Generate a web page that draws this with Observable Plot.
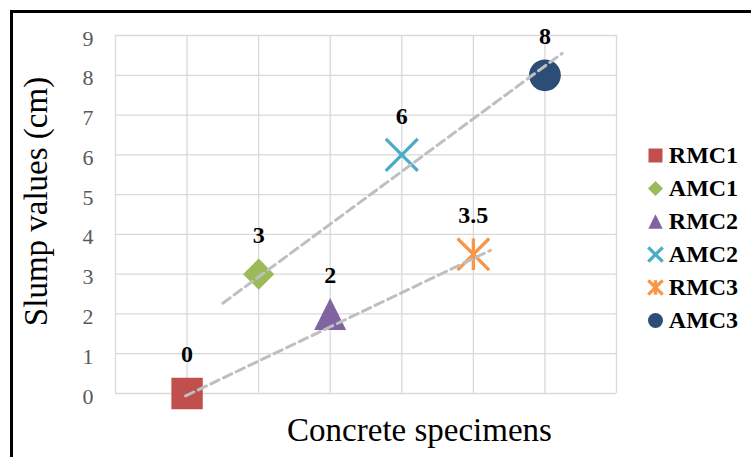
<!DOCTYPE html>
<html>
<head>
<meta charset="utf-8">
<script src="https://cdn.jsdelivr.net/npm/d3@7"></script>
<script src="https://cdn.jsdelivr.net/npm/@observablehq/plot@0.6"></script>
<style>
  html, body { margin: 0; padding: 0; background: #fff; }
  #chart { position: relative; width: 751px; height: 457px; overflow: hidden; background: #fff; }
  #chart > svg { position: absolute; left: 0; top: 0; }
  #chart svg text { font-family: "Liberation Serif", "Times New Roman", serif; }
  #frame { position: absolute; left: 10px; top: 10px; width: 800px; height: 500px;
           border-left: 3px solid #000; border-top: 3px solid #000; pointer-events: none; }
  #legend { position: absolute; left: 640px; top: 116.7px; }
</style>
</head>
<body>
<div id="chart"><div id="frame"></div><div id="legend"></div></div>
<script>
// Specimens, their position along the x axis and the measured slump (cm)
const specimens = ["RMC1", "AMC1", "RMC2", "AMC2", "RMC3", "AMC3"];
const positions = [1, 2, 3, 4, 5, 6];
const slump = [0, 3, 2, 6, 3.5, 8];
const colors = ["#C0504D", "#9BBB59", "#8064A2", "#4BACC6", "#F79646", "#2C4D75"];
const shapes = ["square", "diamond", "triangle", "times", "star", "circle"];

// Dashed trend lines (end points) for the AMC and RMC groups
const trendAMCx = [1.5, 6.24];
const trendAMCy = [2.27, 8.55];
const trendRMCx = [0.98, 5.24];
const trendRMCy = [-0.06, 3.6];

// Y axis ticks
const yTicks = [0, 1, 2, 3, 4, 5, 6, 7, 8, 9];

const points = specimens.map((name, i) => ({
  name, x: positions[i], slump: slump[i], color: colors[i], shape: shapes[i]
}));
const trendAMC = trendAMCx.map((x, i) => ({x, y: trendAMCy[i]}));
const trendRMC = trendRMCx.map((x, i) => ({x, y: trendRMCy[i]}));

// Marker shapes; the radius r passed to Plot is the half-width of the shape
const half = (size) => Math.sqrt(size / Math.PI);
const symbols = {
  square: {filled: true, draw(c, size) { const s = half(size); c.rect(-s, -s, 2 * s, 2 * s); }},
  diamond: {filled: true, draw(c, size) { const s = half(size); c.moveTo(0, -s); c.lineTo(s, 0); c.lineTo(0, s); c.lineTo(-s, 0); c.closePath(); }},
  triangle: {filled: true, draw(c, size) { const s = half(size); c.moveTo(0, -s); c.lineTo(s, s); c.lineTo(-s, s); c.closePath(); }},
  times: {filled: false, draw(c, size) { const s = half(size); c.moveTo(-s, -s); c.lineTo(s, s); c.moveTo(-s, s); c.lineTo(s, -s); }},
  star: {filled: false, draw(c, size) { const s = half(size); c.moveTo(-s, -s); c.lineTo(s, s); c.moveTo(-s, s); c.lineTo(s, -s); c.moveTo(0, -s); c.lineTo(0, s); }},
  circle: {filled: true, draw(c, size) { const s = half(size); c.moveTo(s, 0); c.arc(0, 0, s, 0, 2 * Math.PI); c.closePath(); }}
};
const chartRadius = {square: 15.7, diamond: 15.6, triangle: 16, times: 16, star: 15.8, circle: 15.9};
const legendRadius = {square: 7, diamond: 7.5, triangle: 7.2, times: 7.2, star: 7.2, circle: 7.5};

function markerDot(d, options, r) {
  const sym = symbols[d.shape];
  return Plot.dot([d], {
    ...options,
    symbol: sym,
    r,
    fill: sym.filled ? d.color : "none",
    stroke: sym.filled ? "none" : d.color,
    strokeWidth: sym.filled ? 0 : 3.3
  });
}

const serif = "Liberation Serif";

const chart = Plot.plot({
  width: 751,
  height: 457,
  marginLeft: 115,
  marginRight: 135,
  marginTop: 35,
  marginBottom: 64,
  x: {domain: [0, 7], axis: null},
  y: {domain: [0, 9], axis: null},
  style: {fontFamily: serif, background: "transparent", overflow: "visible"},
  marks: [
    Plot.gridX(d3.range(0, 8), {stroke: "#d9d9d9", strokeOpacity: 1, strokeWidth: 1.3}),
    Plot.gridY(yTicks, {stroke: "#d9d9d9", strokeOpacity: 1, strokeWidth: 1.3}),
    Plot.axisY(yTicks, {tickSize: 0, tickPadding: 22, fontSize: 22, fontFamily: serif, fontVariant: "normal",
      fill: "#595959", dy: 3, label: null}),
    ...points.map((d) => markerDot(d, {x: "x", y: "slump"}, chartRadius[d.shape])),
    Plot.line(trendAMC, {x: "x", y: "y", stroke: "#bfbfbf", strokeWidth: 3, strokeDasharray: "9,5"}),
    Plot.line(trendRMC, {x: "x", y: "y", stroke: "#bfbfbf", strokeWidth: 3, strokeDasharray: "9,5"}),
    Plot.text(points, {x: "x", y: "slump", text: "slump", dy: -39, fontSize: 24, fontFamily: serif,
      fontWeight: "bold", fill: "#000"}),
    Plot.text(["Slump values (cm)"], {frameAnchor: "left", textAnchor: "middle", lineAnchor: "middle",
      rotate: -90, dx: -79, dy: -13, fontSize: 33, fontFamily: serif, fill: "#000"}),
    Plot.text(["Concrete specimens"], {frameAnchor: "bottom", lineAnchor: "bottom",
      dx: 53.5, dy: 47, fontSize: 33, fontFamily: serif, fill: "#000"})
  ]
});
document.getElementById("chart").insertBefore(chart, document.getElementById("frame"));

// Legend: one row per specimen, marker then bold name
const legend = Plot.plot({
  width: 111,
  height: 240,
  margin: 0,
  marginLeft: 15,
  y: {type: "point", domain: specimens, range: [20, 220], axis: null},
  style: {fontFamily: serif, background: "transparent", overflow: "visible"},
  marks: [
    ...points.map((d) => markerDot(d, {y: "name", frameAnchor: "left"}, legendRadius[d.shape])),
    Plot.text(specimens, {y: (d) => d, text: (d) => d, frameAnchor: "left", textAnchor: "start",
      dx: 13.3, fontSize: 24, fontFamily: serif, fontWeight: "bold", fill: "#000"})
  ]
});
document.getElementById("legend").appendChild(legend);
</script>
</body>
</html>
